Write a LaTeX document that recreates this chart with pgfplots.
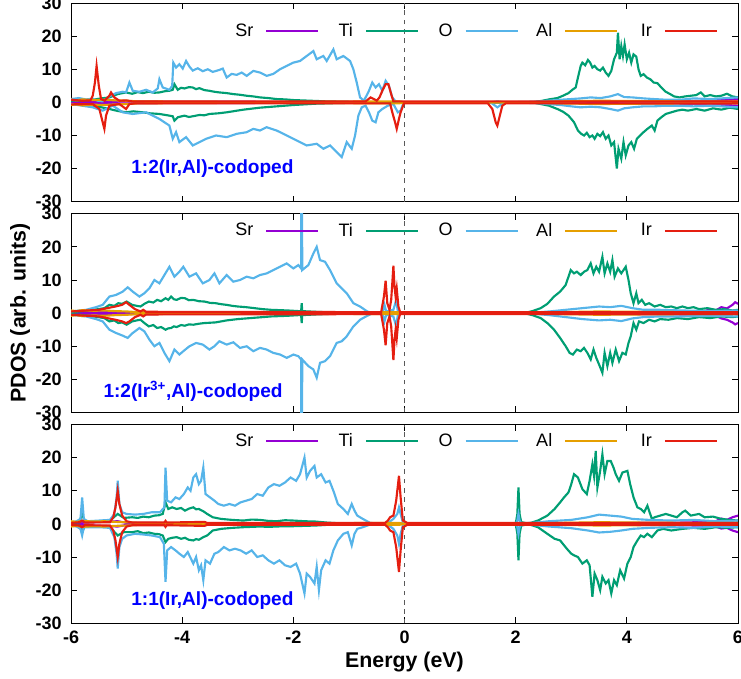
\documentclass[border=0pt]{standalone}
\usepackage{fontspec}
\setmainfont{Liberation Sans}
\usepackage{pgfplots}
\pgfplotsset{compat=1.18}
\usepgfplotslibrary{groupplots}
\definecolor{cSr}{HTML}{9400D3}
\definecolor{cTi}{HTML}{009E73}
\definecolor{cO}{HTML}{56B4E9}
\definecolor{cAl}{HTML}{E69F00}
\definecolor{cIr}{HTML}{E51E10}
\pgfplotsset{
  sr/.style={color=cSr,line width=1.6pt},
  ti/.style={color=cTi,line width=1.6pt},
  ox/.style={color=cO,line width=1.6pt},
  al/.style={color=cAl,line width=1.6pt},
  ir/.style={color=cIr,line width=1.6pt},
  efermi/.style={forget plot,color=black!65,line width=1.2pt,dash pattern=on 3.5pt off 3.5pt},
}
\tikzset{tag/.style={anchor=west,text=blue,font=\bfseries\fontsize{14.3}{16}\selectfont}}
\begin{document}
\begin{tikzpicture}
\begin{groupplot}[
  group style={group size=1 by 3, vertical sep=9pt, xticklabels at=edge bottom},
  width=500pt, height=149pt, scale only axis,
  xmin=-6, xmax=6, ymin=-30, ymax=30,
  xtick={-6,-4,...,6}, ytick={-30,-20,...,30},
  tick align=inside, xtick pos=both, ytick pos=both, major tick length=4.5pt,
  axis line style={line width=0.75pt}, tick style={line width=0.75pt,black},
  tick label style={font=\bfseries\fontsize{13.5}{14}\selectfont},
  xticklabel style={yshift=-2pt},
  yticklabel style={xshift=-3.5pt},
  /pgf/number format/assume math mode=true,
  label style={font=\bfseries\fontsize{16}{18}\selectfont},
  no markers,
  legend plot pos=right,
  legend columns=5,
  legend image code/.code={\draw[#1] (0pt,0pt) -- (39pt,0pt);},
  legend style={draw=none, fill=none, inner sep=0pt, anchor=east, at={(rel axis cs:0.9705,0.915)},
    font=\fontsize{13.5}{14}\selectfont,
    nodes={text width=20pt, align=right, inner xsep=0pt},
    /tikz/every odd column/.append style={column sep=9pt},
    /tikz/every even column/.append style={column sep=5.1pt}},
]
% ---------------- panel 1: 1:2(Ir,Al)
\nextgroupplot[legend style={at={(rel axis cs:0.9705,0.86)}}]
\addplot[efermi] coordinates {(0,-30) (0,30)};
\addplot[sr] coordinates {(-6,0.2)(-5,0.3)(-4,0.2)(-3,0.2)(-2,0.1)(-1,0.05)(0,0)(2.3,0)(3,0.2)(4,0.3)(5,0.4)(5.5,0.5)(5.8,0.8)(6,1.0)};
\addlegendentry{Sr}
\addplot[sr,forget plot] coordinates {(-6,-0.2)(-5,-0.3)(-4,-0.2)(-3,-0.2)(-2,-0.1)(-1,-0.05)(0,0)(2.3,0)(3,-0.2)(4,-0.3)(5,-0.4)(5.5,-0.5)(5.8,-0.8)(6,-1.0)};
\addplot[ti] coordinates {(-6.00,0.5)(-5.80,0.6)(-5.61,0.8)(-5.45,1.2)(-5.31,1.5)(-5.16,2.5)(-5.01,3.0)(-4.90,2.6)(-4.80,3.1)(-4.71,2.8)(-4.60,3.2)(-4.50,2.9)(-4.41,3.0)(-4.30,3.4)(-4.23,3.5)(-4.17,3.8)(-4.14,5.5)(-4.08,3.8)(-4.02,4.4)(-3.96,4.2)(-3.88,4.6)(-3.81,4.5)(-3.75,4.0)(-3.69,4.3)(-3.60,3.7)(-3.51,3.5)(-3.42,3.2)(-3.33,3.0)(-3.20,2.8)(-3.08,2.5)(-2.96,2.3)(-2.84,2.0)(-2.72,1.8)(-2.60,1.5)(-2.45,1.3)(-2.30,1.0)(-2.15,0.9)(-2.00,0.7)(-1.85,0.6)(-1.70,0.5)(-1.55,0.4)(-1.40,0.3)(-1.10,0.2)(-0.80,0.1)(-0.50,0.0)(2.30,0.0)(2.45,0.4)(2.60,0.9)(2.75,1.3)(2.85,2.0)(2.95,2.8)(3.02,3.8)(3.08,4.5)(3.12,7.5)(3.17,11.0)(3.20,12.0)(3.25,11.2)(3.30,12.8)(3.34,12.0)(3.38,10.5)(3.42,11.0)(3.47,10.0)(3.52,9.6)(3.57,10.5)(3.62,9.0)(3.67,8.0)(3.72,9.5)(3.77,13.0)(3.82,15.0)(3.84,21.0)(3.87,13.0)(3.90,17.0)(3.93,14.0)(3.96,17.5)(4.00,13.0)(4.04,15.0)(4.08,12.0)(4.12,14.5)(4.17,13.8)(4.21,10.0)(4.25,8.0)(4.30,8.5)(4.36,7.5)(4.42,7.0)(4.48,6.0)(4.55,5.8)(4.62,4.5)(4.70,3.2)(4.78,2.5)(4.85,1.8)(4.95,1.5)(5.05,1.8)(5.15,2.0)(5.25,2.2)(5.33,3.0)(5.40,1.8)(5.50,2.2)(5.60,1.8)(5.70,2.0)(5.80,2.6)(5.90,1.8)(6.00,1.5)};
\addlegendentry{Ti}
\addplot[ti,forget plot] coordinates {(-6.00,-0.5)(-5.80,-0.7)(-5.61,-1.0)(-5.45,-1.5)(-5.31,-2.0)(-5.16,-2.6)(-5.01,-3.0)(-4.88,-2.7)(-4.71,-3.0)(-4.58,-3.3)(-4.41,-3.5)(-4.30,-3.8)(-4.23,-4.0)(-4.17,-4.2)(-4.14,-5.5)(-4.08,-4.5)(-3.96,-4.0)(-3.88,-4.4)(-3.81,-4.2)(-3.69,-3.8)(-3.60,-3.9)(-3.51,-3.5)(-3.35,-3.3)(-3.20,-3.0)(-3.05,-2.6)(-2.90,-2.2)(-2.75,-1.9)(-2.60,-1.6)(-2.45,-1.4)(-2.30,-1.2)(-2.15,-1.0)(-2.00,-0.8)(-1.80,-0.6)(-1.60,-0.4)(-1.20,-0.2)(-0.80,-0.1)(-0.50,0.0)(2.30,0.0)(2.45,-0.5)(2.60,-1.0)(2.75,-2.0)(2.85,-2.8)(2.95,-4.0)(3.05,-6.0)(3.12,-8.5)(3.18,-9.5)(3.23,-10.0)(3.28,-9.2)(3.33,-10.5)(3.38,-10.0)(3.42,-11.0)(3.47,-9.5)(3.52,-10.2)(3.57,-9.0)(3.62,-11.0)(3.67,-10.0)(3.72,-13.0)(3.77,-12.0)(3.82,-20.0)(3.85,-14.0)(3.90,-17.0)(3.94,-12.0)(3.98,-16.0)(4.03,-13.0)(4.08,-12.0)(4.13,-14.0)(4.18,-11.0)(4.24,-10.0)(4.30,-9.0)(4.37,-8.0)(4.45,-7.0)(4.50,-8.5)(4.55,-5.5)(4.62,-4.5)(4.70,-3.5)(4.80,-3.0)(4.90,-2.5)(5.00,-2.2)(5.10,-2.5)(5.25,-2.0)(5.40,-2.5)(5.55,-1.8)(5.70,-2.2)(5.85,-1.6)(6.00,-2.0)};
\addplot[ox] coordinates {(-6.00,1.0)(-5.86,1.3)(-5.73,0.9)(-5.61,1.1)(-5.52,0.5)(-5.43,0.3)(-5.31,1.8)(-5.19,2.8)(-5.07,3.2)(-5.01,3.0)(-4.95,6.0)(-4.89,3.5)(-4.77,3.2)(-4.65,3.8)(-4.53,3.0)(-4.44,4.2)(-4.41,7.0)(-4.35,4.5)(-4.23,3.8)(-4.18,5.0)(-4.16,12.0)(-4.11,10.5)(-4.05,11.5)(-3.99,10.2)(-3.93,12.5)(-3.87,10.8)(-3.81,9.6)(-3.72,10.3)(-3.63,9.4)(-3.54,10.0)(-3.45,9.2)(-3.33,9.8)(-3.27,10.2)(-3.20,7.5)(-3.11,8.6)(-3.02,8.3)(-2.93,9.0)(-2.84,8.0)(-2.72,9.5)(-2.60,9.0)(-2.48,8.0)(-2.36,8.6)(-2.24,10.0)(-2.12,11.0)(-2.00,12.0)(-1.88,12.5)(-1.76,14.0)(-1.64,15.5)(-1.58,13.0)(-1.46,14.0)(-1.40,12.5)(-1.28,16.0)(-1.22,13.0)(-1.10,14.0)(-0.98,12.5)(-0.92,10.0)(-0.86,6.0)(-0.80,1.5)(-0.73,0.5)(-0.64,3.5)(-0.58,6.0)(-0.52,4.5)(-0.46,5.5)(-0.40,3.5)(-0.34,6.5)(-0.28,5.0)(-0.22,1.5)(-0.16,0.3)(0.00,0.0)(1.55,0.0)(1.67,0.3)(1.80,0.0)(2.33,0.2)(2.50,0.4)(2.81,0.8)(3.00,1.0)(3.17,1.2)(3.35,1.5)(3.53,1.3)(3.70,1.8)(3.84,2.5)(3.95,1.6)(4.10,1.5)(4.30,1.2)(4.49,1.0)(4.70,0.8)(4.97,0.8)(5.20,1.2)(5.50,1.0)(5.80,1.3)(6.00,1.5)};
\addlegendentry{O}
\addplot[ox,forget plot] coordinates {(-6.00,-0.5)(-5.80,-1.0)(-5.61,-1.5)(-5.43,-2.5)(-5.25,-1.0)(-5.07,-3.0)(-4.89,-3.5)(-4.65,-3.0)(-4.41,-5.0)(-4.23,-7.0)(-4.17,-11.0)(-4.11,-9.0)(-4.05,-12.0)(-3.93,-10.5)(-3.81,-13.0)(-3.69,-12.0)(-3.57,-11.0)(-3.39,-10.0)(-3.20,-10.5)(-3.02,-9.5)(-2.84,-9.0)(-2.72,-8.0)(-2.60,-8.5)(-2.48,-7.5)(-2.30,-8.5)(-2.12,-10.0)(-2.00,-11.0)(-1.88,-12.0)(-1.76,-13.0)(-1.58,-12.5)(-1.46,-14.0)(-1.34,-13.0)(-1.22,-15.0)(-1.13,-16.5)(-1.04,-12.0)(-0.95,-14.0)(-0.89,-10.0)(-0.83,-4.0)(-0.77,-1.5)(-0.70,-1.0)(-0.64,-3.0)(-0.58,-5.5)(-0.52,-6.0)(-0.47,-3.0)(-0.40,-2.0)(-0.30,-1.0)(-0.20,-0.5)(-0.12,-3.0)(-0.07,-2.5)(-0.02,-0.2)(0.00,0.0)(1.55,0.0)(1.67,-1.5)(1.80,0.0)(2.33,-0.2)(2.50,-0.4)(2.81,-0.8)(3.00,-1.2)(3.17,-1.5)(3.35,-1.3)(3.53,-1.5)(3.70,-2.0)(3.84,-2.5)(3.95,-1.8)(4.10,-1.5)(4.30,-1.2)(4.49,-1.2)(4.70,-1.0)(4.97,-1.0)(5.20,-1.2)(5.50,-1.0)(5.80,-1.3)(6.00,-1.5)};
\addplot[al] coordinates {(-6,0.8)(-5.9,0.6)(-5.8,0.9)(-5.6,0.7)(-5.4,0.8)(-5.2,0.6)(-5.0,0.5)(-4.8,0.3)(-4,0.2)(-2,0.1)(-0.5,0.3)(-0.1,0.3)(0,0)(2.3,0)(2.8,0.3)(3.5,0.5)(4.2,0.4)(5,0.3)(6,0.3)};
\addlegendentry{Al}
\addplot[al,forget plot] coordinates {(-6,-0.8)(-5.9,-0.6)(-5.8,-0.9)(-5.6,-0.7)(-5.4,-0.8)(-5.2,-0.6)(-5.0,-0.5)(-4.8,-0.3)(-4,-0.2)(-2,-0.1)(-0.5,-0.3)(-0.1,-0.3)(0,0)(2.3,0)(2.8,-0.3)(3.5,-0.5)(4.2,-0.4)(5,-0.3)(6,-0.3)};
\addplot[ir] coordinates {(-6.00,0.8)(-5.80,0.5)(-5.65,0.6)(-5.61,2.0)(-5.57,6.0)(-5.54,11.0)(-5.50,5.0)(-5.46,1.0)(-5.40,0.5)(-5.31,2.0)(-5.28,3.0)(-5.22,1.5)(-5.13,0.5)(-5.01,0.6)(-4.90,0.3)(-0.70,0.3)(-0.61,1.5)(-0.55,1.0)(-0.50,0.5)(-0.45,1.5)(-0.40,3.5)(-0.34,5.5)(-0.29,5.5)(-0.24,2.5)(-0.20,0.3)(6.00,0.3)};
\addlegendentry{Ir}
\addplot[ir,forget plot] coordinates {(-6.00,-0.6)(-5.61,-0.5)(-5.49,-2.0)(-5.43,-6.0)(-5.40,-8.0)(-5.37,-4.0)(-5.31,-1.0)(-5.13,-0.5)(-5.01,-2.0)(-4.95,-0.5)(-4.85,-0.3)(-0.26,-0.3)(-0.22,-3.0)(-0.17,-6.0)(-0.14,-8.0)(-0.10,-5.0)(-0.07,-3.0)(-0.01,-0.3)(1.50,-0.3)(1.58,-2.0)(1.64,-6.0)(1.67,-7.0)(1.70,-5.0)(1.76,-1.0)(1.82,-0.3)(6.00,-0.3)};
\node[tag] at (axis cs:-5,-20) {1:2(Ir,Al)-codoped};
% ---------------- panel 2: 1:2(Ir3+,Al)
\nextgroupplot[ylabel={PDOS (arb. units)}, ylabel style={at={(rel axis cs:-0.0765,0.5)}, anchor=center}]
\addplot[efermi] coordinates {(0,-30) (0,30)};
\addplot[sr] coordinates {(-6,0.2)(-5,0.3)(-4,0.2)(-3,0.2)(-2,0.1)(-1,0.05)(0,0)(2.3,0)(3,0.2)(4,0.3)(5,0.4)(5.4,0.6)(5.5,1.2)(5.6,0.8)(5.7,1.8)(5.8,1.4)(5.9,2.5)(5.95,3.3)(6,2.8)};
\addlegendentry{Sr}
\addplot[sr,forget plot] coordinates {(-6,-0.2)(-5,-0.3)(-4,-0.2)(-3,-0.2)(-2,-0.1)(-1,-0.05)(0,0)(2.3,0)(3,-0.2)(4,-0.3)(5,-0.4)(5.4,-0.6)(5.5,-1.0)(5.6,-0.8)(5.7,-1.6)(5.8,-2.0)(5.9,-2.8)(5.95,-3.4)(6,-3.0)};
\addplot[ti] coordinates {(-6.00,0.3)(-5.85,0.5)(-5.70,0.8)(-5.55,1.1)(-5.40,1.5)(-5.31,2.5)(-5.22,2.2)(-5.15,3.0)(-5.08,2.8)(-5.00,3.5)(-4.90,2.5)(-4.82,2.2)(-4.75,2.0)(-4.68,2.8)(-4.60,3.5)(-4.52,3.2)(-4.45,4.0)(-4.38,3.6)(-4.30,4.5)(-4.25,4.0)(-4.20,5.0)(-4.15,4.2)(-4.10,4.0)(-4.02,4.6)(-3.95,4.5)(-3.88,3.9)(-3.80,4.0)(-3.70,3.6)(-3.60,3.5)(-3.50,3.1)(-3.40,3.0)(-3.30,2.7)(-3.20,2.5)(-3.10,2.2)(-3.00,2.0)(-2.85,1.8)(-2.70,1.5)(-2.55,1.2)(-2.40,1.0)(-2.25,0.9)(-2.10,0.8)(-1.90,0.6)(-1.86,0.6)(-1.85,3.0)(-1.84,0.6)(-1.60,0.4)(-1.30,0.2)(-1.00,0.1)(-0.60,0.0)(2.15,0.0)(2.30,0.6)(2.45,1.5)(2.57,2.8)(2.69,5.0)(2.80,6.5)(2.90,8.5)(2.99,13.0)(3.05,12.0)(3.10,12.5)(3.17,11.5)(3.23,12.5)(3.29,13.0)(3.35,15.0)(3.40,12.0)(3.45,14.0)(3.50,12.5)(3.56,17.0)(3.60,12.0)(3.65,15.0)(3.70,12.5)(3.74,16.0)(3.78,11.0)(3.84,13.5)(3.90,12.0)(3.98,14.0)(4.03,10.0)(4.07,6.0)(4.12,3.0)(4.17,6.0)(4.21,3.0)(4.27,4.0)(4.33,2.5)(4.40,3.0)(4.50,2.0)(4.60,2.5)(4.70,1.8)(4.80,2.0)(4.90,1.5)(5.00,2.0)(5.10,1.5)(5.20,1.8)(5.30,1.2)(5.45,1.5)(5.60,1.0)(5.75,1.2)(5.90,0.8)(6.00,1.0)};
\addlegendentry{Ti}
\addplot[ti,forget plot] coordinates {(-6.00,-0.3)(-5.85,-0.5)(-5.70,-0.8)(-5.55,-1.1)(-5.40,-1.5)(-5.31,-2.5)(-5.22,-2.2)(-5.15,-3.0)(-5.08,-2.8)(-5.00,-3.5)(-4.90,-2.5)(-4.82,-2.2)(-4.75,-2.0)(-4.68,-3.0)(-4.60,-4.0)(-4.52,-3.6)(-4.45,-4.5)(-4.38,-4.2)(-4.30,-5.0)(-4.25,-4.6)(-4.20,-4.5)(-4.15,-4.0)(-4.10,-4.2)(-4.02,-3.6)(-3.95,-3.8)(-3.88,-3.4)(-3.80,-3.5)(-3.70,-3.2)(-3.60,-3.0)(-3.50,-2.9)(-3.40,-2.8)(-3.30,-2.5)(-3.20,-2.2)(-3.10,-2.0)(-3.00,-1.8)(-2.85,-1.6)(-2.70,-1.4)(-2.55,-1.2)(-2.40,-1.0)(-2.25,-0.9)(-2.10,-0.8)(-1.90,-0.6)(-1.86,-0.6)(-1.85,-3.0)(-1.84,-0.6)(-1.60,-0.4)(-1.30,-0.2)(-1.00,-0.1)(-0.60,0.0)(2.15,0.0)(2.30,-0.6)(2.45,-1.5)(2.57,-3.0)(2.69,-5.0)(2.80,-7.5)(2.90,-10.0)(2.97,-12.0)(3.03,-12.5)(3.10,-11.0)(3.17,-11.5)(3.23,-10.5)(3.29,-12.0)(3.35,-14.0)(3.40,-11.0)(3.45,-13.5)(3.50,-15.5)(3.56,-18.0)(3.60,-12.0)(3.65,-16.0)(3.70,-12.0)(3.74,-15.0)(3.80,-11.0)(3.86,-14.5)(3.92,-12.0)(3.98,-12.5)(4.03,-9.0)(4.07,-7.0)(4.12,-3.0)(4.17,-5.0)(4.22,-2.5)(4.30,-3.0)(4.40,-2.0)(4.50,-2.5)(4.60,-1.8)(4.75,-2.0)(4.90,-1.5)(5.10,-1.8)(5.30,-1.2)(5.50,-1.5)(5.70,-1.0)(5.90,-1.2)(6.00,-1.0)};
\addplot[ox] coordinates {(-6.00,0.5)(-5.73,1.0)(-5.55,1.8)(-5.43,2.5)(-5.31,5.0)(-5.19,5.5)(-5.07,6.5)(-4.98,7.8)(-4.89,6.5)(-4.77,5.0)(-4.68,6.0)(-4.59,7.5)(-4.50,10.0)(-4.41,9.0)(-4.32,11.5)(-4.23,14.0)(-4.14,11.0)(-4.05,12.5)(-3.98,14.0)(-3.87,11.0)(-3.75,12.0)(-3.63,9.0)(-3.51,10.0)(-3.42,12.0)(-3.33,9.0)(-3.20,11.5)(-3.08,9.5)(-2.96,10.0)(-2.84,11.0)(-2.72,10.5)(-2.60,11.5)(-2.48,12.0)(-2.36,13.0)(-2.24,14.0)(-2.12,15.0)(-2.00,13.5)(-1.91,14.5)(-1.86,13.5)(-1.852,60.0)(-1.848,60.0)(-1.84,13.0)(-1.73,14.5)(-1.64,18.0)(-1.58,20.0)(-1.52,16.0)(-1.43,15.5)(-1.34,13.0)(-1.22,9.0)(-1.13,7.5)(-1.04,6.0)(-0.92,3.0)(-0.80,2.0)(-0.67,0.5)(-0.58,0.1)(-0.40,0.0)(-0.36,2.5)(-0.33,0.5)(-0.20,1.0)(-0.15,4.0)(-0.12,0.5)(0.00,0.0)(2.20,0.0)(2.60,0.5)(2.90,1.0)(3.20,1.5)(3.50,2.0)(3.70,1.8)(3.90,2.2)(4.10,1.5)(4.30,1.0)(4.60,1.0)(5.00,0.8)(5.50,0.6)(6.00,0.8)};
\addlegendentry{O}
\addplot[ox,forget plot] coordinates {(-6.00,-0.5)(-5.73,-1.0)(-5.55,-1.8)(-5.43,-2.5)(-5.31,-5.0)(-5.19,-6.0)(-5.07,-6.8)(-4.98,-7.5)(-4.89,-6.0)(-4.77,-4.5)(-4.68,-5.5)(-4.59,-8.0)(-4.50,-10.0)(-4.41,-9.0)(-4.32,-12.0)(-4.23,-14.5)(-4.14,-11.0)(-4.05,-12.5)(-3.98,-11.5)(-3.87,-10.0)(-3.75,-9.0)(-3.63,-9.5)(-3.51,-11.0)(-3.42,-10.0)(-3.33,-8.5)(-3.20,-9.5)(-3.08,-8.8)(-2.96,-10.5)(-2.84,-10.0)(-2.72,-11.5)(-2.60,-10.5)(-2.48,-11.0)(-2.36,-12.0)(-2.24,-12.5)(-2.12,-13.5)(-2.00,-12.5)(-1.91,-13.0)(-1.86,-14.0)(-1.852,-60.0)(-1.848,-60.0)(-1.84,-14.0)(-1.73,-16.0)(-1.64,-17.0)(-1.58,-19.5)(-1.52,-15.0)(-1.43,-14.5)(-1.34,-13.0)(-1.22,-9.0)(-1.13,-8.5)(-1.04,-7.0)(-0.92,-4.0)(-0.80,-2.0)(-0.67,-0.8)(-0.58,-0.1)(-0.40,0.0)(-0.36,-2.5)(-0.33,-0.5)(-0.20,-1.0)(-0.15,-4.0)(-0.12,-0.5)(0.00,0.0)(2.20,0.0)(2.60,-0.6)(2.90,-1.2)(3.20,-1.8)(3.50,-2.2)(3.70,-2.0)(3.90,-2.4)(4.10,-1.6)(4.30,-1.2)(4.60,-1.0)(5.00,-1.0)(5.50,-0.8)(6.00,-1.0)};
\addplot[al] coordinates {(-6,0.8)(-5.9,0.6)(-5.8,0.9)(-5.6,0.7)(-5.4,0.8)(-5.2,0.6)(-5.0,0.5)(-4.8,0.3)(-4,0.2)(-2,0.1)(-0.5,0.3)(-0.1,0.3)(0,0)(2.3,0)(2.8,0.3)(3.5,0.5)(4.2,0.4)(5,0.3)(6,0.3)};
\addlegendentry{Al}
\addplot[al,forget plot] coordinates {(-6,-0.8)(-5.9,-0.6)(-5.8,-0.9)(-5.6,-0.7)(-5.4,-0.8)(-5.2,-0.6)(-5.0,-0.5)(-4.8,-0.3)(-4,-0.2)(-2,-0.1)(-0.5,-0.3)(-0.1,-0.3)(0,0)(2.3,0)(2.8,-0.3)(3.5,-0.5)(4.2,-0.4)(5,-0.3)(6,-0.3)};
\addplot[ir] coordinates {(-6.00,0.5)(-5.70,0.8)(-5.50,1.0)(-5.35,1.5)(-5.20,2.0)(-5.08,2.5)(-5.01,3.3)(-4.95,2.5)(-4.85,1.2)(-4.75,0.5)(-4.70,1.0)(-4.65,0.4)(-0.42,0.3)(-0.37,5.0)(-0.34,9.8)(-0.31,3.0)(-0.27,1.0)(-0.24,4.0)(-0.22,9.0)(-0.20,14.3)(-0.18,8.0)(-0.16,5.0)(-0.14,7.4)(-0.11,2.0)(-0.08,0.3)(6.00,0.3)};
\addlegendentry{Ir}
\addplot[ir,forget plot] coordinates {(-6.00,-0.5)(-5.70,-0.8)(-5.50,-1.0)(-5.35,-1.5)(-5.20,-2.0)(-5.08,-2.5)(-5.01,-3.0)(-4.95,-2.5)(-4.85,-1.2)(-4.75,-0.5)(-4.70,-1.0)(-4.65,-0.4)(-0.42,-0.3)(-0.37,-5.0)(-0.34,-9.7)(-0.31,-3.0)(-0.27,-1.0)(-0.24,-4.0)(-0.22,-9.0)(-0.20,-14.2)(-0.18,-8.0)(-0.16,-5.0)(-0.14,-7.6)(-0.11,-2.0)(-0.08,-0.3)(6.00,-0.3)};
\node[tag] at (axis cs:-5.5,-23.7) {1:2(Ir\textsuperscript{3+},Al)-codoped};
% ---------------- panel 3: 1:1(Ir,Al)
\nextgroupplot[xlabel={Energy (eV)}, xlabel style={at={(rel axis cs:0.5,-0.196)}, anchor=center}]
\addplot[efermi] coordinates {(0,-30) (0,30)};
\addplot[sr] coordinates {(-6,0.2)(-5.16,0.8)(-5,0.3)(-4,0.2)(-3,0.2)(-2,0.1)(-1,0.05)(0,0)(2.3,0)(3,0.2)(4,0.3)(5,0.4)(5.5,0.6)(5.6,0.8)(5.7,1.6)(5.8,1.2)(5.9,2.0)(6,2.5)};
\addlegendentry{Sr}
\addplot[sr,forget plot] coordinates {(-6,-0.2)(-5.16,-0.8)(-5,-0.3)(-4,-0.2)(-3,-0.2)(-2,-0.1)(-1,-0.05)(0,0)(2.3,0)(3,-0.2)(4,-0.3)(5,-0.4)(5.5,-0.6)(5.6,-0.8)(5.7,-1.4)(5.8,-1.2)(5.9,-2.0)(6,-2.5)};
\addplot[ti] coordinates {(-6.00,0.3)(-5.85,0.5)(-5.80,3.0)(-5.75,0.6)(-5.50,0.8)(-5.30,1.0)(-5.16,3.0)(-5.05,1.8)(-4.90,2.0)(-4.80,1.8)(-4.70,2.2)(-4.60,2.0)(-4.50,2.5)(-4.42,2.6)(-4.35,3.0)(-4.30,6.5)(-4.25,4.5)(-4.18,5.0)(-4.10,4.5)(-4.02,4.8)(-3.95,4.0)(-3.88,4.6)(-3.80,5.0)(-3.75,4.4)(-3.70,4.5)(-3.62,3.8)(-3.55,3.0)(-3.45,2.0)(-3.30,1.5)(-3.10,1.2)(-2.90,1.0)(-2.75,1.3)(-2.60,1.2)(-2.45,0.9)(-2.30,0.8)(-2.15,1.1)(-2.00,1.0)(-1.80,0.8)(-1.60,0.7)(-1.40,0.4)(-1.20,0.2)(-0.90,0.0)(2.00,0.0)(2.03,3.0)(2.05,11.0)(2.07,3.0)(2.10,0.5)(2.20,0.2)(2.27,0.3)(2.40,1.0)(2.57,2.5)(2.70,4.5)(2.80,6.5)(2.87,8.0)(2.95,9.5)(3.00,12.0)(3.05,15.0)(3.12,14.0)(3.20,10.5)(3.28,9.0)(3.33,13.0)(3.38,18.0)(3.41,14.5)(3.44,22.0)(3.47,11.0)(3.52,16.0)(3.56,21.0)(3.60,15.0)(3.65,19.0)(3.71,19.0)(3.76,17.0)(3.80,15.0)(3.86,13.0)(3.92,15.5)(4.01,16.0)(4.06,12.0)(4.12,8.0)(4.19,5.0)(4.25,4.5)(4.31,3.5)(4.37,5.5)(4.45,1.5)(4.50,2.0)(4.60,2.5)(4.70,3.0)(4.80,2.5)(4.90,2.0)(5.00,3.5)(5.05,4.0)(5.15,2.5)(5.30,3.0)(5.40,2.0)(5.55,2.2)(5.70,1.5)(5.85,1.2)(6.00,1.0)};
\addlegendentry{Ti}
\addplot[ti,forget plot] coordinates {(-6.00,-0.3)(-5.85,-0.5)(-5.80,-2.5)(-5.75,-0.6)(-5.50,-0.8)(-5.30,-1.0)(-5.16,-3.5)(-5.05,-2.5)(-4.90,-2.5)(-4.80,-2.2)(-4.70,-2.8)(-4.60,-2.6)(-4.50,-3.0)(-4.42,-3.1)(-4.35,-3.5)(-4.30,-5.5)(-4.25,-4.5)(-4.18,-4.2)(-4.10,-4.0)(-4.02,-4.5)(-3.95,-4.2)(-3.88,-4.8)(-3.80,-5.0)(-3.75,-4.6)(-3.70,-4.8)(-3.62,-4.0)(-3.55,-3.5)(-3.45,-2.0)(-3.30,-1.5)(-3.10,-1.2)(-2.90,-1.0)(-2.75,-0.9)(-2.60,-0.8)(-2.45,-0.9)(-2.30,-0.8)(-2.15,-0.7)(-2.00,-0.7)(-1.80,-0.6)(-1.60,-0.5)(-1.40,-0.3)(-1.20,-0.2)(-0.90,0.0)(2.00,0.0)(2.03,-3.0)(2.05,-11.0)(2.07,-3.0)(2.10,-0.5)(2.20,-0.2)(2.27,-0.3)(2.40,-1.0)(2.57,-3.0)(2.70,-4.5)(2.80,-5.0)(2.92,-7.5)(3.00,-9.0)(3.05,-9.5)(3.12,-10.0)(3.20,-12.0)(3.28,-11.0)(3.33,-12.5)(3.38,-22.0)(3.42,-15.0)(3.47,-17.0)(3.52,-20.0)(3.56,-16.0)(3.62,-18.0)(3.67,-17.0)(3.72,-21.0)(3.77,-17.0)(3.82,-18.5)(3.88,-14.0)(3.95,-16.5)(4.01,-12.0)(4.07,-10.0)(4.12,-7.0)(4.19,-5.0)(4.25,-3.5)(4.31,-4.0)(4.37,-3.0)(4.45,-4.0)(4.55,-2.0)(4.65,-1.5)(4.80,-2.0)(5.00,-1.5)(5.20,-1.2)(5.40,-1.5)(5.60,-1.0)(5.80,-1.2)(6.00,-1.0)};
\addplot[ox] coordinates {(-6.00,0.5)(-5.90,0.8)(-5.83,1.5)(-5.80,8.0)(-5.77,1.5)(-5.70,0.8)(-5.50,1.0)(-5.30,1.2)(-5.22,3.0)(-5.18,8.0)(-5.16,13.0)(-5.13,6.0)(-5.08,3.5)(-5.00,3.0)(-4.85,2.8)(-4.70,3.0)(-4.55,3.5)(-4.40,3.5)(-4.32,5.0)(-4.30,17.0)(-4.27,7.0)(-4.20,6.5)(-4.12,8.0)(-4.05,7.5)(-3.97,9.0)(-3.90,11.0)(-3.85,10.0)(-3.80,14.0)(-3.75,15.0)(-3.70,12.0)(-3.66,13.0)(-3.62,17.0)(-3.58,9.0)(-3.50,8.0)(-3.42,7.0)(-3.35,6.0)(-3.25,5.5)(-3.15,6.0)(-3.05,5.5)(-2.95,6.5)(-2.85,7.0)(-2.75,7.5)(-2.65,9.0)(-2.55,8.5)(-2.45,11.0)(-2.35,12.0)(-2.25,11.5)(-2.15,12.5)(-2.05,14.0)(-1.95,13.0)(-1.88,15.0)(-1.80,20.0)(-1.76,14.0)(-1.70,16.0)(-1.62,17.5)(-1.58,14.0)(-1.50,15.0)(-1.42,12.5)(-1.35,13.0)(-1.28,10.0)(-1.20,6.0)(-1.10,4.5)(-1.02,3.0)(-0.95,6.0)(-0.90,4.0)(-0.85,2.5)(-0.75,1.5)(-0.62,0.3)(-0.40,0.0)(-0.28,0.5)(-0.20,1.5)(-0.13,3.0)(-0.10,5.0)(-0.07,3.0)(-0.03,0.5)(0.00,0.0)(2.00,0.0)(2.03,1.0)(2.05,3.0)(2.07,1.0)(2.10,0.2)(2.30,0.3)(2.60,0.8)(3.00,1.2)(3.30,2.0)(3.50,2.8)(3.70,2.5)(3.90,2.2)(4.10,1.5)(4.40,1.2)(4.80,1.0)(5.20,1.2)(5.60,0.8)(6.00,1.0)};
\addlegendentry{O}
\addplot[ox,forget plot] coordinates {(-6.00,-0.5)(-5.90,-0.8)(-5.83,-1.5)(-5.80,-3.5)(-5.77,-1.0)(-5.50,-1.0)(-5.30,-1.2)(-5.22,-4.0)(-5.18,-9.0)(-5.16,-13.5)(-5.13,-7.0)(-5.08,-4.5)(-5.00,-3.5)(-4.85,-3.0)(-4.70,-3.2)(-4.55,-3.5)(-4.40,-4.0)(-4.33,-6.0)(-4.30,-17.5)(-4.27,-8.0)(-4.20,-7.0)(-4.12,-8.0)(-4.05,-9.0)(-3.97,-10.0)(-3.90,-8.5)(-3.80,-12.0)(-3.75,-10.0)(-3.70,-14.0)(-3.66,-12.5)(-3.62,-17.0)(-3.58,-11.0)(-3.50,-12.0)(-3.42,-9.0)(-3.35,-8.5)(-3.25,-7.0)(-3.15,-8.0)(-3.05,-7.5)(-2.95,-8.0)(-2.85,-9.0)(-2.75,-8.0)(-2.65,-10.0)(-2.55,-9.5)(-2.45,-11.0)(-2.35,-12.0)(-2.25,-11.0)(-2.15,-12.5)(-2.05,-13.0)(-1.95,-12.0)(-1.88,-15.0)(-1.80,-21.0)(-1.76,-15.0)(-1.70,-16.0)(-1.62,-18.0)(-1.58,-13.0)(-1.54,-20.0)(-1.50,-14.0)(-1.42,-11.0)(-1.35,-12.0)(-1.28,-8.0)(-1.20,-5.0)(-1.10,-3.0)(-1.02,-2.5)(-0.95,-6.5)(-0.90,-3.0)(-0.85,-1.5)(-0.75,-1.0)(-0.62,-0.2)(-0.40,0.0)(-0.28,-0.5)(-0.20,-1.5)(-0.13,-3.5)(-0.10,-6.0)(-0.07,-3.0)(-0.03,-0.5)(0.00,0.0)(2.00,0.0)(2.03,-1.0)(2.05,-3.0)(2.07,-1.0)(2.10,-0.2)(2.30,-0.3)(2.60,-0.8)(3.00,-1.3)(3.30,-2.0)(3.50,-2.6)(3.70,-2.4)(3.90,-2.0)(4.10,-1.5)(4.40,-1.2)(4.80,-1.0)(5.20,-1.2)(5.60,-0.8)(6.00,-1.0)};
\addplot[al] coordinates {(-6,0.8)(-5.9,0.6)(-5.8,0.9)(-5.6,0.7)(-5.4,0.8)(-5.2,0.6)(-5.0,0.5)(-4.8,0.3)(-4,0.2)(-2,0.1)(-0.5,0.3)(-0.1,0.3)(0,0)(2.3,0)(2.8,0.3)(3.5,0.5)(4.2,0.4)(5,0.3)(6,0.3)};
\addlegendentry{Al}
\addplot[al,forget plot] coordinates {(-6,-0.8)(-5.9,-0.6)(-5.8,-0.9)(-5.6,-0.7)(-5.4,-0.8)(-5.2,-0.6)(-5.0,-0.5)(-4.8,-0.3)(-4,-0.2)(-2,-0.1)(-0.5,-0.3)(-0.1,-0.3)(0,0)(2.3,0)(2.8,-0.3)(3.5,-0.5)(4.2,-0.4)(5,-0.3)(6,-0.3)};
\addplot[ir] coordinates {(-6.00,0.3)(-5.85,0.5)(-5.80,1.0)(-5.75,0.4)(-5.30,0.5)(-5.24,2.0)(-5.20,5.0)(-5.16,10.0)(-5.13,6.0)(-5.08,2.5)(-5.00,0.8)(-4.90,0.4)(-4.32,0.4)(-4.30,0.9)(-4.28,0.4)(-3.60,0.6)(-3.55,0.3)(-0.35,0.3)(-0.30,1.0)(-0.26,2.0)(-0.20,2.5)(-0.15,7.0)(-0.10,14.5)(-0.07,8.0)(-0.03,1.0)(0.05,0.3)(6.00,0.3)};
\addlegendentry{Ir}
\addplot[ir,forget plot] coordinates {(-6.00,-0.3)(-5.85,-0.5)(-5.80,-1.0)(-5.75,-0.4)(-5.30,-0.5)(-5.24,-2.0)(-5.20,-5.0)(-5.16,-10.0)(-5.13,-6.0)(-5.08,-2.5)(-5.00,-0.8)(-4.90,-0.4)(-4.32,-0.4)(-4.30,-0.9)(-4.28,-0.4)(-3.60,-0.6)(-3.55,-0.3)(-0.35,-0.3)(-0.30,-1.0)(-0.26,-2.0)(-0.20,-2.5)(-0.15,-7.0)(-0.10,-14.5)(-0.07,-8.0)(-0.03,-1.0)(0.05,-0.3)(6.00,-0.3)};
\node[tag] at (axis cs:-5,-23.2) {1:1(Ir,Al)-codoped};
\end{groupplot}
\pgfresetboundingbox
\path[use as bounding box] ([xshift=-53.25pt,yshift=2.25pt]group c1r1.north west) rectangle ([xshift=2.25pt,yshift=-41.25pt]group c1r3.south east);
\end{tikzpicture}
\end{document}
